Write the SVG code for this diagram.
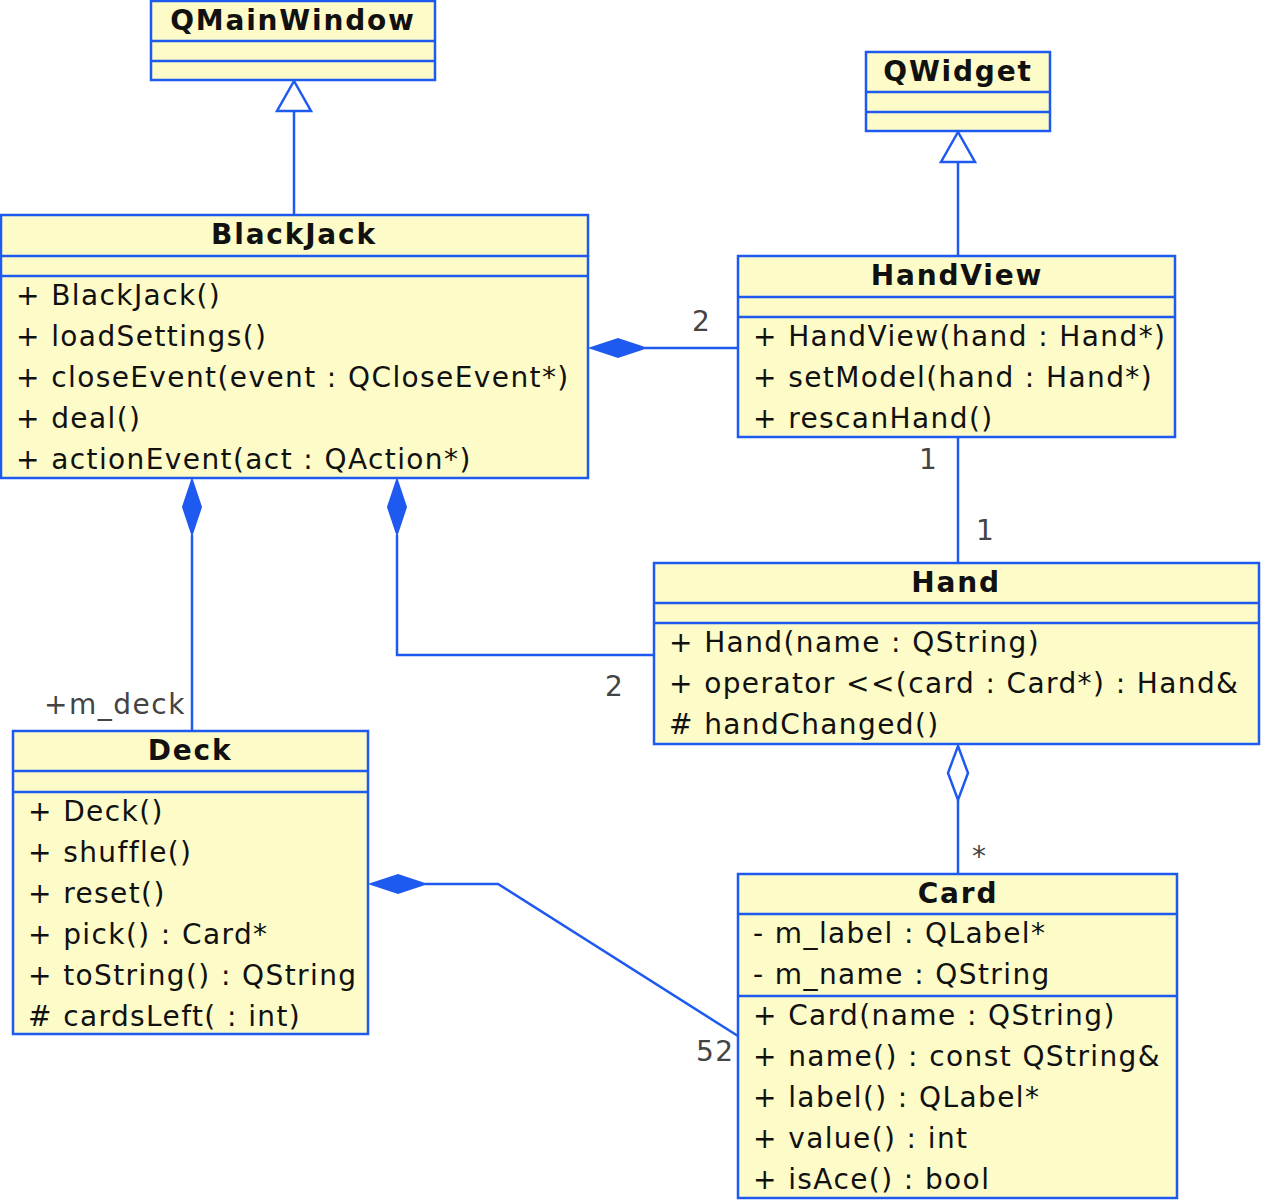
<svg xmlns="http://www.w3.org/2000/svg" width="1261" height="1200" viewBox="0 0 1261 1200">
<style>
.box{fill:#fdfbc8;stroke:#1f5af0;stroke-width:2.5}
.ln{stroke:#1f5af0;stroke-width:2.5;fill:none}
.t{font-family:"DejaVu Sans",sans-serif;font-size:28px;letter-spacing:1.4px;fill:#111}
.h{font-family:"DejaVu Sans",sans-serif;font-size:28px;letter-spacing:1.8px;font-weight:bold;fill:#111;text-anchor:middle}
.l{font-family:"DejaVu Sans",sans-serif;font-size:28px;letter-spacing:1.5px;fill:#444}
.fd{fill:#1f5af0;stroke:#1f5af0;stroke-width:2}
.hd{fill:#fff;stroke:#1f5af0;stroke-width:2.5}
</style>
<rect width="1261" height="1200" fill="#fff"/>
<g id="connectors">
<path class="ln" d="M294 215V110"/><path class="hd" d="M294 81L277 111H311Z"/>
<path class="ln" d="M958 256V162"/><path class="hd" d="M958 132L941 162H975Z"/>
<path class="ln" d="M645 348H738"/><path class="fd" d="M591 348L618 339L645 348L618 357Z"/>
<path class="ln" d="M958 437V563"/>
<path class="ln" d="M192 535V731"/><path class="fd" d="M192 480L201 507L192 534L183 507Z"/>
<path class="ln" d="M397 535V655H654"/><path class="fd" d="M397 480L406 507L397 534L388 507Z"/>
<path class="ln" d="M958 800V874"/><path class="hd" d="M958 746L968 773L958 800L948 773Z"/>
<path class="ln" d="M425 884H498L738 1036"/><path class="fd" d="M371 884L398 875L425 884L398 893Z"/>
<text class="l" x="692" y="331">2</text>
<text class="l" x="919" y="469">1</text>
<text class="l" x="976" y="540">1</text>
<text class="l" x="44" y="714">+m_deck</text>
<text class="l" x="605" y="696">2</text>
<text class="l" x="972" y="866">*</text>
<text class="l" x="696" y="1061">52</text>
</g>
<g id="QMainWindow">
<rect class="box" x="151" y="1" width="284" height="79"/>
<path class="ln" d="M151 41H435M151 61H435"/>
<text class="h" x="293" y="30">QMainWindow</text>
</g>
<g id="QWidget">
<rect class="box" x="866" y="52" width="184" height="79"/>
<path class="ln" d="M866 92H1050M866 112H1050"/>
<text class="h" x="958" y="81">QWidget</text>
</g>
<g id="BlackJack">
<rect class="box" x="1" y="215" width="587" height="263"/>
<path class="ln" d="M1 256H588M1 276H588"/>
<text class="h" x="294" y="244">BlackJack</text>
<text class="t" x="16" y="305">+ BlackJack()</text>
<text class="t" x="16" y="346">+ loadSettings()</text>
<text class="t" x="16" y="387">+ closeEvent(event : QCloseEvent*)</text>
<text class="t" x="16" y="428">+ deal()</text>
<text class="t" x="16" y="469">+ actionEvent(act : QAction*)</text>
</g>
<g id="HandView">
<rect class="box" x="738" y="256" width="437" height="181"/>
<path class="ln" d="M738 297H1175M738 317H1175"/>
<text class="h" x="957" y="285">HandView</text>
<text class="t" x="753" y="346">+ HandView(hand : Hand*)</text>
<text class="t" x="753" y="387">+ setModel(hand : Hand*)</text>
<text class="t" x="753" y="428">+ rescanHand()</text>
</g>
<g id="Hand">
<rect class="box" x="654" y="563" width="605" height="181"/>
<path class="ln" d="M654 603H1259M654 623H1259"/>
<text class="h" x="956" y="592">Hand</text>
<text class="t" x="669" y="652">+ Hand(name : QString)</text>
<text class="t" x="669" y="693">+ operator &lt;&lt;(card : Card*) : Hand&amp;</text>
<text class="t" x="669" y="734"># handChanged()</text>
</g>
<g id="Deck">
<rect class="box" x="13" y="731" width="355" height="303"/>
<path class="ln" d="M13 771H368M13 792H368"/>
<text class="h" x="190" y="760">Deck</text>
<text class="t" x="28" y="821">+ Deck()</text>
<text class="t" x="28" y="862">+ shuffle()</text>
<text class="t" x="28" y="903">+ reset()</text>
<text class="t" x="28" y="944">+ pick() : Card*</text>
<text class="t" x="28" y="985">+ toString() : QString</text>
<text class="t" x="28" y="1026"># cardsLeft( : int)</text>
</g>
<g id="Card">
<rect class="box" x="738" y="874" width="439" height="324"/>
<path class="ln" d="M738 914H1177M738 996H1177"/>
<text class="h" x="958" y="903">Card</text>
<text class="t" x="753" y="943">- m_label : QLabel*</text>
<text class="t" x="753" y="984">- m_name : QString</text>
<text class="t" x="753" y="1025">+ Card(name : QString)</text>
<text class="t" x="753" y="1066">+ name() : const QString&amp;</text>
<text class="t" x="753" y="1107">+ label() : QLabel*</text>
<text class="t" x="753" y="1148">+ value() : int</text>
<text class="t" x="753" y="1189">+ isAce() : bool</text>
</g>
</svg>
